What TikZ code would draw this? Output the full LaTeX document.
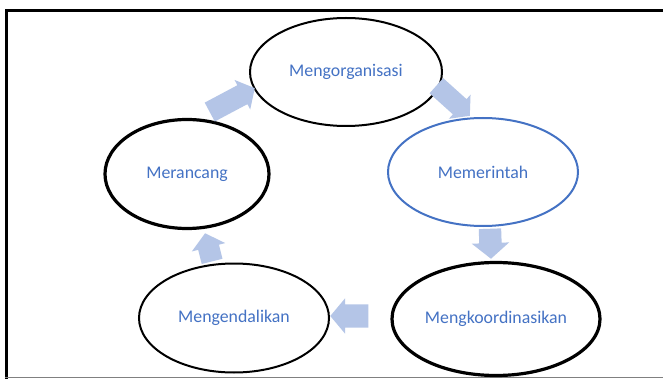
\documentclass[tikz,border=0pt]{standalone}
\usepackage{fontspec}
\setmainfont{Carlito}
\usetikzlibrary{shapes.geometric,shapes.arrows}
\definecolor{labelblue}{HTML}{4472C4}
\definecolor{blockfill}{HTML}{B4C5E7}
\tikzset{
  stage/.style={ellipse, draw=black, line width=2pt, inner sep=0pt,
    text=labelblue, font=\fontsize{17.8}{20}\selectfont},
  stagebold/.style={stage, line width=3.2pt},
  % #1 = shaft width, #2 = half of (head width - shaft width)
  flowarrow/.style 2 args={single arrow, fill=blockfill, draw=none, inner sep=0pt,
    text width=0pt, text height=#1, text depth=0pt, anchor=tip,
    single arrow tip angle=100, single arrow head extend=#2}
}
\begin{document}
\begin{tikzpicture}[x=1pt,y=-1pt]
  % canvas and frame
  \useasboundingbox (0,0) rectangle (663,379);
  \fill[white] (0,0) rectangle (663,379);
  \draw[black, line width=2.5pt] (5,10.5) -- (663,10.5);
  \draw[black, line width=3pt] (6.5,9.5) -- (6.5,379);
  \draw[gray, line width=1.5pt] (5,377.5) -- (663,377.5);

  % the five stages
  \node[stage, minimum width=192pt, minimum height=108pt] (org) at (346,72) {Mengorganisasi};
  \node[stage, draw=labelblue, minimum width=190pt, minimum height=108pt] (cmd) at (483,172) {Memerintah};
  \node[stagebold, minimum width=208pt, minimum height=113pt] (koord) at (496,319) {Mengkoordinasikan};
  \node[stage, minimum width=190pt, minimum height=109pt] (ctrl) at (234,318) {Mengendalikan};
  \node[stagebold, minimum width=164pt, minimum height=109pt] (plan) at (187,174) {Merancang};

  % block arrows between the stages, placed by their tips
  \node[flowarrow={21pt}{6pt}, minimum height=51pt, rotate=28] (a1) at (255,88) {};
  \node[flowarrow={20pt}{6pt}, minimum height=45pt, rotate=-42] (a2) at (470,116) {};
  \node[flowarrow={22pt}{7.5pt}, minimum height=30pt, rotate=-88] (a3) at (491,259) {};
  \node[flowarrow={23pt}{6pt}, minimum height=38pt, rotate=180] (a4) at (330,316) {};
  \node[flowarrow={21pt}{6.5pt}, minimum height=29pt, rotate=104] (a5) at (205,233) {};
\end{tikzpicture}
\end{document}
